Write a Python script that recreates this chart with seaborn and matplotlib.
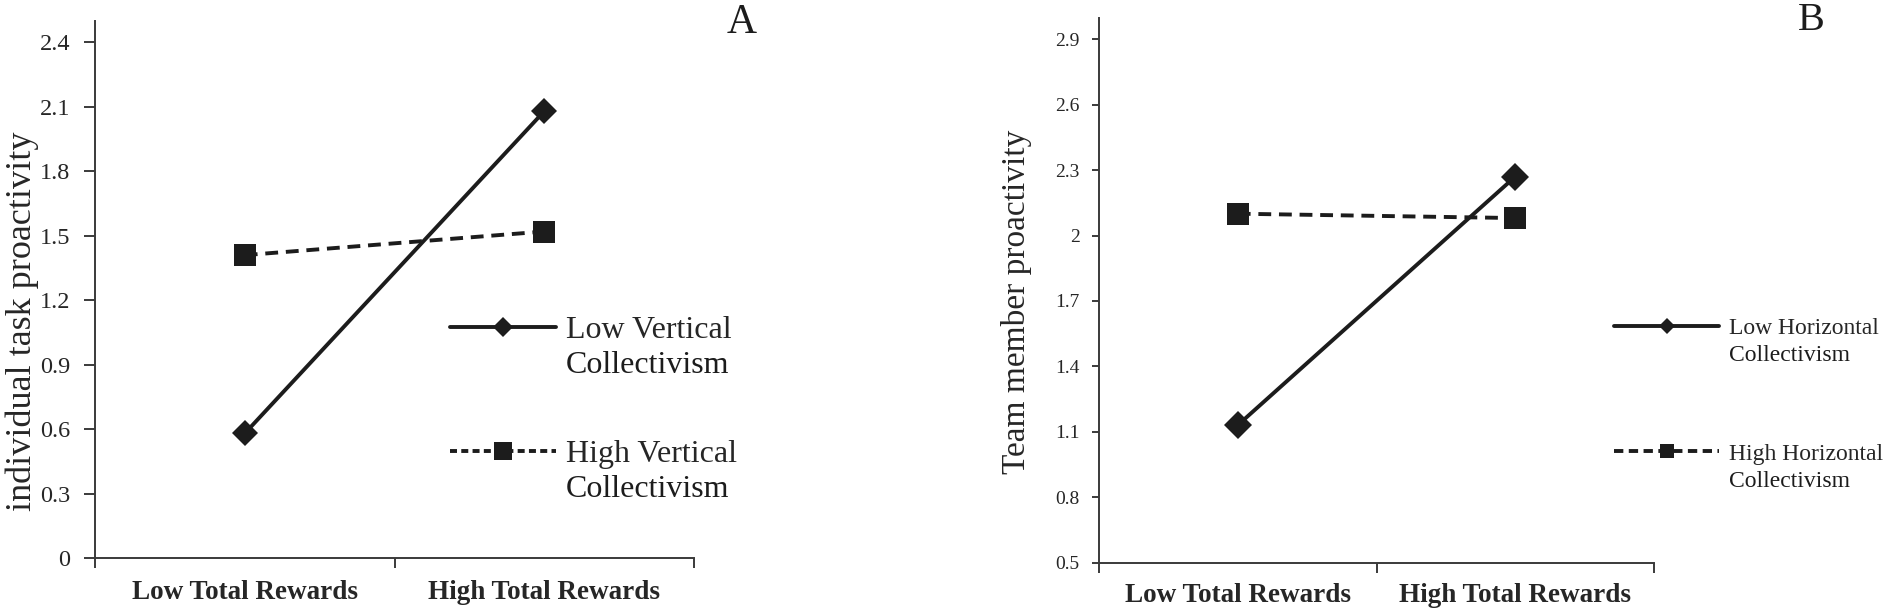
import pandas as pd
import matplotlib
matplotlib.use("Agg")
import matplotlib.pyplot as plt
import seaborn as sns

conditions = ["Low Total Rewards", "High Total Rewards"]

# panel A - individual task proactivity
vertical_groups = ["Low Vertical", "High Vertical"]
low_vertical = [0.58, 2.08]
high_vertical = [1.41, 1.52]
task_ticks = [0, 0.3, 0.6, 0.9, 1.2, 1.5, 1.8, 2.1, 2.4]

# panel B - team member proactivity
horizontal_groups = ["Low Horizontal", "High Horizontal"]
low_horizontal = [1.13, 2.27]
high_horizontal = [2.10, 2.08]
member_ticks = [0.5, 0.8, 1.1, 1.4, 1.7, 2.0, 2.3, 2.6, 2.9]

second_line = "Collectivism"

sns.set_style("ticks")
plt.rcParams["font.family"] = ["Liberation Serif", "DejaVu Serif"]

INK = "#1c1c1c"
AXIS = "#3a3a3a"


def make_frame(groups, low, high):
    df = pd.DataFrame({
        "condition": conditions * 2,
        "group": [groups[0]] * 2 + [groups[1]] * 2,
        "value": list(low) + list(high),
    })
    df["position"] = df["condition"].map({c: i for i, c in enumerate(conditions)})
    return df


def draw_panel(ax, df, groups, ylim, ticks, ylabel, opts):
    sns.lineplot(data=df, x="position", y="value", style="group",
                 markers={groups[0]: "D", groups[1]: "s"},
                 dashes={groups[0]: "", groups[1]: (3.3, 2.0)},
                 color=INK, linewidth=2.8, markeredgewidth=0,
                 legend=False, ax=ax)
    ax.lines[0].set_markersize(opts["diamond"])
    ax.lines[1].set_markersize(opts["square"])

    ax.set_xlim(-0.5, 1.5)
    ax.set_ylim(*ylim)
    ax.set_xticks([-0.5, 0.5, 1.5], labels=["", "", ""])
    ax.set_xticks([0, 1], labels=conditions, minor=True)
    ax.set_yticks(ticks, labels=[f"{t:g}" for t in ticks])
    ax.tick_params(axis="x", which="major", length=7, width=1.4, color=AXIS)
    ax.tick_params(axis="x", which="minor", length=0, pad=opts["xpad"],
                   labelsize=19.5)
    ax.tick_params(axis="y", length=opts["ytick_len"], width=1.4, color=AXIS,
                   pad=opts["ypad"], labelsize=opts["ytick_size"])
    for lab in ax.get_xticklabels(minor=True):
        lab.set_fontweight("bold")
    ax.set_xlabel("")
    ax.set_ylabel(ylabel, fontsize=opts["ylabel_size"], va="center")
    ax.yaxis.set_label_coords(*opts["ylabel_xy"])
    sns.despine(ax=ax)
    for side in ["left", "bottom"]:
        ax.spines[side].set_linewidth(1.4)
        ax.spines[side].set_color(AXIS)

    leg = ax.legend(ax.lines[:2], groups, loc="upper left",
                    bbox_to_anchor=opts["legend_xy"], frameon=False,
                    fontsize=opts["legend_size"], handlelength=opts["handlelength"],
                    handletextpad=opts["handletextpad"], labelspacing=opts["labelspacing"],
                    markerscale=opts["markerscale"], borderpad=0, borderaxespad=0)
    leg.get_lines()[1].set_dashes(opts["legend_dash"])
    return leg


fig = plt.figure(figsize=(18.92, 6.12), dpi=100)
ax_a = fig.add_axes([95 / 1892, 54 / 612, 599 / 1892, 537 / 612])
ax_b = fig.add_axes([1099 / 1892, 49.5 / 612, 555 / 1892, 545 / 612])

opts_a = dict(diamond=13, square=16, xpad=16, ytick_len=8, ypad=10, ytick_size=17.5,
              ylabel_size=26, ylabel_xy=(-0.122, 0.44), legend_xy=(0.593, 0.451),
              legend_size=23, handlelength=3.3, handletextpad=0.31, labelspacing=2.95,
              markerscale=0.8, legend_dash=(1.8, 1.1), line_gap=1.1)
opts_b = dict(diamond=14, square=16, xpad=15, ytick_len=5, ypad=9, ytick_size=14,
              ylabel_size=24, ylabel_xy=(-0.148, 0.478), legend_xy=(0.928, 0.449),
              legend_size=17, handlelength=4.45, handletextpad=0.42, labelspacing=4.4,
              markerscale=0.6, legend_dash=(2.4, 1.4), line_gap=1.15)

leg_a = draw_panel(ax_a, make_frame(vertical_groups, low_vertical, high_vertical),
                   vertical_groups, (0, 2.5), task_ticks,
                   "individual task proactivity", opts_a)
leg_b = draw_panel(ax_b, make_frame(horizontal_groups, low_horizontal, high_horizontal),
                   horizontal_groups, (0.5, 3.0), member_ticks,
                   "Team member proactivity", opts_b)

# second line of each legend label, set one line below the first
fig.canvas.draw()
W, H = fig.bbox.width, fig.bbox.height
for leg, opts in [(leg_a, opts_a), (leg_b, opts_b)]:
    size = opts["legend_size"]
    px = size * fig.dpi / 72
    for txt in leg.get_texts():
        bb = txt.get_window_extent()
        baseline = bb.y0 + 0.217 * px
        fig.text(bb.x0 / W, (baseline - opts["line_gap"] * px) / H, second_line,
                 fontsize=size, ha="left", va="baseline", color=INK)

fig.text(742 / 1892, 1 - 23 / 612, "A", fontsize=30, ha="center", va="center", color=INK)
fig.text(1811 / 1892, 1 - 21 / 612, "B", fontsize=29, ha="center", va="center", color=INK)

fig.savefig("out.png", dpi=100)
